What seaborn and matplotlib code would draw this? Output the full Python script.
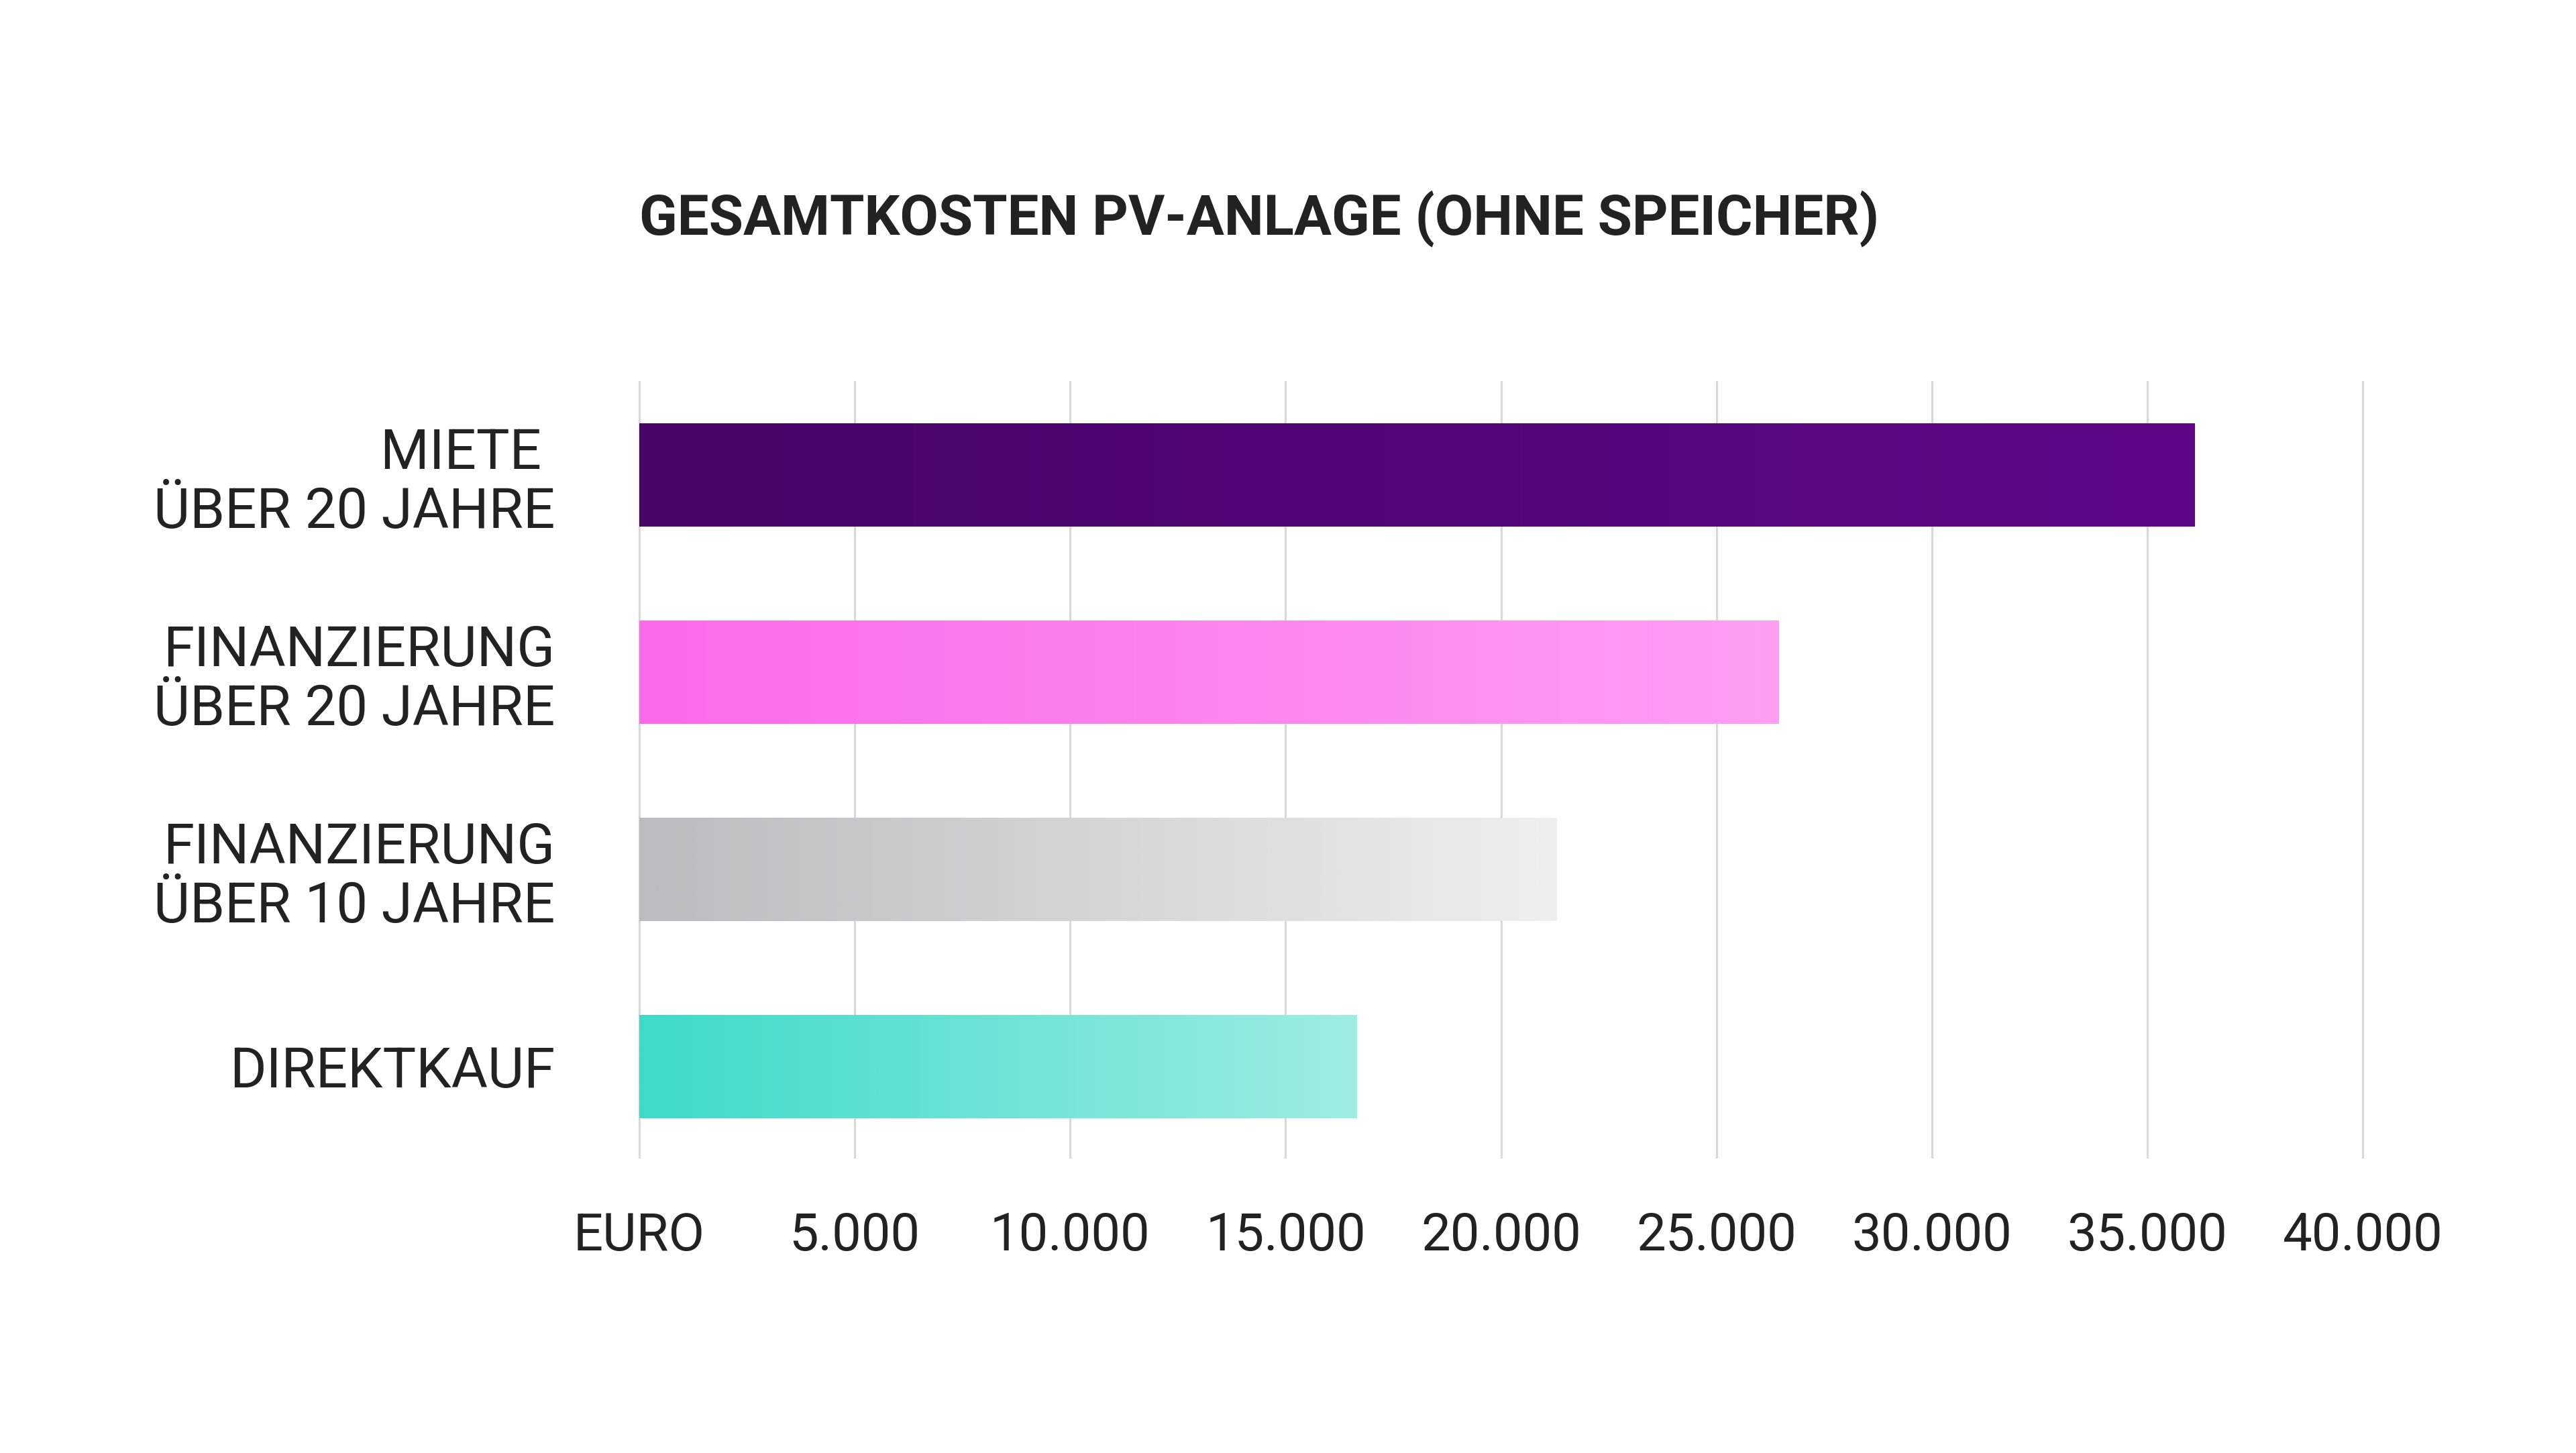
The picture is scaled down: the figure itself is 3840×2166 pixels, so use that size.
import numpy as np
import pandas as pd
import matplotlib
matplotlib.use("Agg")
import matplotlib.pyplot as plt
import seaborn as sns
from matplotlib.colors import LinearSegmentedColormap

# ---- data ----
categories = ["MIETE \nÜBER 20 JAHRE", "FINANZIERUNG\nÜBER 20 JAHRE",
              "FINANZIERUNG\nÜBER 10 JAHRE", "DIREKTKAUF"]
values = [36100, 26450, 21300, 16650]
tick_values = [0, 5000, 10000, 15000, 20000, 25000, 30000, 35000, 40000]
tick_labels = ["EURO", "5.000", "10.000", "15.000", "20.000", "25.000",
               "30.000", "35.000", "40.000"]
title = "GESAMTKOSTEN PV-ANLAGE (OHNE SPEICHER)"
grad_start = ["#470568", "#FA6AEB", "#BCBCBE", "#3DDBC8"]
grad_end = ["#5E0888", "#FE9FF3", "#EFEFEF", "#9EEDE3"]

# ---- style ----
sns.set_theme(style="white")
plt.rcParams['font.family'] = ['Roboto', 'DejaVu Sans']
TEXT = "#222222"
GRID = "#D9D9D9"

W, H = 3840, 2166
fig = plt.figure(figsize=(W / 100, H / 100), dpi=100)
fig.patch.set_facecolor("white")

ax_left, ax_right = 946.6, 3528.4
ax_top, ax_bottom = 568, 1727
ax = fig.add_axes([ax_left / W, 1 - ax_bottom / H,
                   (ax_right - ax_left) / W, (ax_bottom - ax_top) / H])
ax.set_facecolor("white")

df = pd.DataFrame({"cat": categories, "val": values})
sns.barplot(data=df, x="val", y="cat", hue="cat", palette=grad_start,
            orient="h", width=0.525, legend=False, saturation=1, ax=ax,
            zorder=2)

# gradient fill for each bar, clipped to the bar patch
for patch, c0, c1 in zip(ax.patches, grad_start, grad_end):
    x0, y0 = patch.get_x(), patch.get_y()
    w, h = patch.get_width(), patch.get_height()
    cmap = LinearSegmentedColormap.from_list("g", [c0, c1])
    grad = np.linspace(0, 1, 512).reshape(1, -1)
    im = ax.imshow(grad, cmap=cmap, aspect="auto",
                   extent=[x0, x0 + w, y0 + h, y0], zorder=3,
                   interpolation="bilinear")
    im.set_clip_path(patch)
    patch.set_edgecolor("none")

ax.set_xlim(-100, 40100)
ax.set_ylim(3.466, -0.476)

ax.set_xticks(tick_values)
ax.set_xticklabels(tick_labels, fontsize=56, color=TEXT, fontweight="normal")
ax.tick_params(axis="x", length=0, pad=56)
ax.tick_params(axis="y", length=0, pad=86)
for lbl in ax.get_yticklabels():
    lbl.set_fontsize(60)
    lbl.set_color(TEXT)
    lbl.set_fontweight("normal")
    lbl.set_multialignment("right")
    lbl.set_linespacing(1.12)

ax.set_xlabel("")
ax.set_ylabel("")
ax.xaxis.grid(True, color=GRID, linewidth=2.3, zorder=0)
ax.yaxis.grid(False)
ax.set_axisbelow(True)
for s in ax.spines.values():
    s.set_visible(False)

fig.text(953 / W, 1 - 326 / H, title, ha="left", va="center",
         fontsize=60, fontweight="bold", color=TEXT)

fig.savefig("out.png", dpi=100, facecolor="white")
